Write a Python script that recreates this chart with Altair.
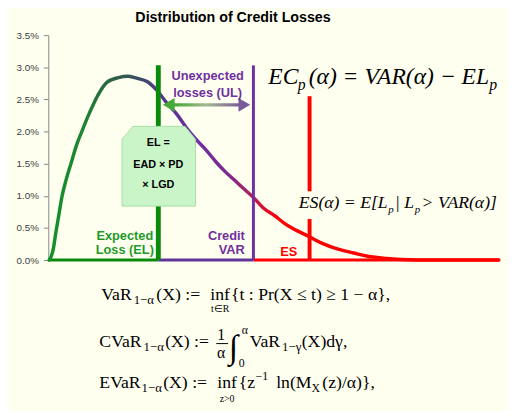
import altair as alt
import pandas as pd

# ---------------- data ----------------
# loss axis (arbitrary units 0-100) and loss density (%)
loss = [0.2, 0.6, 1.1, 1.7, 2.4, 3.0, 3.9, 5.0, 6.3, 7.4, 8.9, 10, 11, 13, 15.5, 17.5,
        19.5, 22, 24, 26, 28.5, 30.5, 33, 35, 37, 39, 41.5, 43.5, 45.5, 47.5, 50, 52,
        54, 57.5, 60.5, 64, 67.5, 70.5, 74, 78, 85, 99.5]
density = [0, 0.05, 0.17, 0.44, 0.73, 0.98, 1.24, 1.50, 1.80, 2.00, 2.26, 2.43, 2.57,
           2.77, 2.84, 2.86, 2.83, 2.77, 2.64, 2.46, 2.26, 2.06, 1.85, 1.70, 1.53, 1.38,
           1.22, 1.09, 0.96, 0.81, 0.69, 0.58, 0.49, 0.37, 0.26, 0.17, 0.11, 0.06, 0.03,
           0.01, 0.0, 0.0]
y_ticks = [0, 0.5, 1.0, 1.5, 2.0, 2.5, 3.0, 3.5]

# risk measures (loss position) : EL, VAR, ES
el_x, var_x, es_x = 24.3, 45.3, 57.7
marker_x = [el_x, var_x, es_x, es_x]
marker_lo = [0, 0, 1.07, 0]
marker_hi = [3.03, 3.03, 2.55, 0.64]
marker_col = ["#0a8a0a", "#7030a0", "#ff0000", "#ff0000"]
marker_w = [5, 3, 4, 4]

base_from = [0, el_x, var_x]
base_to = [el_x, var_x, 99.5]
base_col = ["#0a8a0a", "#60359a", "#ff0000"]

# EL box (chamfered top corners)
box_x = [16.3, 18.7, 30.2, 32.5]
box_top = [1.88, 2.08, 2.08, 1.88]
box_bot = [0.84, 0.84, 0.84, 0.84]

# UL arrow
arrow_x = [26.6, 43.3]
arrow_y = [2.415, 2.415]
shaft_x, shaft_x2 = [27.5], [42.5]
shaft_y, shaft_y2 = [2.39], [2.44]

# ---------------- texts ----------------
sans_c_t = ["Distribution of Credit Losses", "Unexpected", "losses (UL)", "Expected",
            "Loss (EL)", "ES", "EL =", "EAD \u00d7 PD", "\u00d7 LGD"]
sans_c_x = [40.8, 35.2, 35.2, 16.9, 16.9, 53.1, 24.3, 24.3, 24.3]
sans_c_y = [3.71, 2.80, 2.54, 0.32, 0.09, 0.06, 1.77, 1.44, 1.12]
sans_c_s = [14.5, 13, 13, 13, 13, 13, 11, 11, 11]
sans_c_c = ["#000000", "#7030a0", "#7030a0", "#1f9a2a", "#1f9a2a", "#ff0000",
            "#000000", "#000000", "#000000"]

sans_r_t = ["Credit", "VAR"]
sans_r_x = [43.4, 43.4]
sans_r_y = [0.32, 0.09]
sans_r_s = [13, 13]
sans_r_c = ["#7030a0", "#7030a0"]

ital_t = ["EC", "p", "(\u03b1) = VAR(\u03b1) \u2212 EL", "p",
          "ES(\u03b1) = E[L", "p", "| L", "p", "> VAR(\u03b1)]"]
ital_x = [48.6, 55.1, 57.5, 97.4, 55.31, 75.05, 76.57, 80.91, 82.43]
ital_y = [2.74, 2.64, 2.74, 2.64, 0.81, 0.734, 0.81, 0.734, 0.81]
ital_s = [24, 16, 24, 16, 18, 11, 18, 11, 18]

math_t = ["VaR", "1\u2212\u03b1", "(X) :=", "inf", "{t : Pr(X \u2264 t) \u2265 1 \u2212 \u03b1},",
          "CVaR", "1\u2212\u03b1", "(X) :=", "\u222b", "\u03b1", "0", "VaR", "1\u2212\u03b3", "(X)d\u03b3,",
          "EVaR", "1\u2212\u03b1", "(X) :=", "inf", "{z", "\u22121", "ln(M", "X", "(z)/\u03b1)},"]
math_x = [11.71, 18.87, 23.86, 35.79, 40.35,
          11.28, 21.04, 25.81, 39.91, 42.73, 42.08, 44.47, 51.63, 55.97,
          11.28, 20.61, 25.38, 37.31, 42.08, 45.77, 50.33, 58.13, 60.52]
math_y = [-0.627, -0.688, -0.627, -0.627, -0.627,
          -1.360, -1.421, -1.360, -1.528, -1.146, -1.666, -1.360, -1.421, -1.360,
          -1.987, -2.048, -1.987, -1.987, -1.987, -1.865, -1.987, -2.048, -1.987]
math_s = [18, 13, 18, 18, 18,
          18, 13, 18, 34, 12, 12, 18, 13, 18,
          18, 13, 18, 18, 18, 12, 18, 12, 18]

mathc_t = ["t\u2208R", "1", "\u03b1", "z>0"]
mathc_x = [37.96, 38.18, 38.18, 39.48]
mathc_y = [-0.810, -1.238, -1.528, -2.201]
mathc_s = [10, 16, 16, 10]

frac_x, frac_x2, frac_y = [37.09], [39.70], [-1.299]

# ---------------- chart ----------------
xs = alt.Scale(domain=[0, 100], nice=False, zero=False)
ys = alt.Scale(domain=[0, 3.5], nice=False, zero=False)
yaxis = alt.Axis(values=y_ticks, labelExpr="format(datum.value, '.1f') + '%'", title=None,
                 grid=False, domainColor="#888888", tickColor="#888888", tickSize=5,
                 labelColor="#404040", labelFont="Liberation Sans", labelFontSize=10,
                 labelPadding=5)


def X(f):
    return alt.X(f"{f}:Q", scale=xs, axis=None)


def Y(f):
    return alt.Y(f"{f}:Q", scale=ys, axis=yaxis)


curve_df = pd.DataFrame({"loss": loss, "d": density})
curve_grad = alt.LinearGradient(
    gradient="linear", x1=0, x2=1, y1=0, y2=0,
    stops=[alt.GradientStop(offset=0.0, color="#12902a"),
           alt.GradientStop(offset=0.07, color="#1d8632"),
           alt.GradientStop(offset=0.15, color="#2e5e48"),
           alt.GradientStop(offset=0.20, color="#3a4c64"),
           alt.GradientStop(offset=0.26, color="#5a3590"),
           alt.GradientStop(offset=0.33, color="#6e2fa0"),
           alt.GradientStop(offset=0.40, color="#7c2a8e"),
           alt.GradientStop(offset=0.45, color="#b0205a"),
           alt.GradientStop(offset=0.49, color="#e80a20"),
           alt.GradientStop(offset=0.52, color="#ff0000"),
           alt.GradientStop(offset=1.0, color="#ff0000")])

axis_layer = alt.Chart(pd.DataFrame({"v": y_ticks})).mark_point(opacity=0).encode(
    x=alt.value(0), y=Y("v"))

base_df = pd.DataFrame({"a": base_from, "b": base_to, "y": [0, 0, 0], "c": base_col})
base_layer = alt.Chart(base_df).mark_rule(strokeWidth=3).encode(
    x=X("a"), x2="b", y=Y("y"), color=alt.Color("c:N", scale=None))

curve_layer = alt.Chart(curve_df).mark_line(
    stroke=curve_grad, strokeWidth=3.5, interpolate="monotone", strokeCap="round").encode(
    x=X("loss"), y=Y("d"))

mk_df = pd.DataFrame({"x": marker_x, "lo": marker_lo, "hi": marker_hi,
                      "c": marker_col, "w": marker_w})
mk_layer = alt.Chart(mk_df).mark_rule().encode(
    x=X("x"), y=Y("lo"), y2="hi", color=alt.Color("c:N", scale=None),
    strokeWidth=alt.StrokeWidth("w:Q", scale=None))

box_df = pd.DataFrame({"x": box_x, "t": box_top, "b": box_bot})
box_layer = alt.Chart(box_df).mark_area(
    fill="#c9f5c9", stroke="#a4dea4", strokeWidth=1, opacity=1).encode(
    x=X("x"), y=Y("t"), y2="b")

arr_grad = alt.LinearGradient(
    gradient="linear", x1=0, x2=1, y1=0, y2=0,
    stops=[alt.GradientStop(offset=0.0, color="#3ea832"),
           alt.GradientStop(offset=0.5, color="#a6b894"),
           alt.GradientStop(offset=1.0, color="#7a5a9a")])
shaft_df = pd.DataFrame({"a": shaft_x, "b": shaft_x2, "c": shaft_y, "d": shaft_y2})
shaft_layer = alt.Chart(shaft_df).mark_rect(fill=arr_grad, opacity=1).encode(
    x=X("a"), x2="b", y=Y("c"), y2="d")
head_df = pd.DataFrame({"x": arrow_x, "y": arrow_y,
                        "shape": ["triangle-left", "triangle-right"],
                        "c": ["#46a836", "#7a5a9a"]})
head_layer = alt.Chart(head_df).mark_point(filled=True, size=190, opacity=1).encode(
    x=X("x"), y=Y("y"), shape=alt.Shape("shape:N", scale=None),
    color=alt.Color("c:N", scale=None))


def text_layer(t, x, y, s, c, align, font, weight="normal", style="normal"):
    df = pd.DataFrame({"t": t, "x": x, "y": y, "s": s, "c": c})
    return alt.Chart(df).mark_text(align=align, baseline="alphabetic", font=font,
                                   fontWeight=weight, fontStyle=style).encode(
        x=X("x"), y=Y("y"), text="t:N", size=alt.Size("s:Q", scale=None),
        color=alt.Color("c:N", scale=None))


sans_c = text_layer(sans_c_t, sans_c_x, sans_c_y, sans_c_s, sans_c_c, "center",
                    "Liberation Sans", "bold")
sans_r = text_layer(sans_r_t, sans_r_x, sans_r_y, sans_r_s, sans_r_c, "right",
                    "Liberation Sans", "bold")
ital = text_layer(ital_t, ital_x, ital_y, ital_s, ["#000000"] * len(ital_t), "left",
                  "Liberation Serif", "normal", "italic")
math_l = text_layer(math_t, math_x, math_y, math_s, ["#000000"] * len(math_t), "left",
                    "Liberation Serif")
math_c = text_layer(mathc_t, mathc_x, mathc_y, mathc_s, ["#000000"] * len(mathc_t), "center",
                    "Liberation Serif")

frac_df = pd.DataFrame({"a": frac_x, "b": frac_x2, "y": frac_y})
frac_layer = alt.Chart(frac_df).mark_rule(strokeWidth=1, color="#000000").encode(
    x=X("a"), x2="b", y=Y("y"))

chart = alt.layer(
    axis_layer, base_layer, curve_layer, mk_layer, box_layer, shaft_layer, head_layer,
    sans_c, sans_r, ital, math_l, math_c, frac_layer
).properties(
    width=461, height=229,
    autosize=alt.AutoSizeParams(type="none"),
    padding={"left": 41, "top": 24, "right": 7, "bottom": 150},
    background="#FFFFF0"
).configure_view(stroke=None)

chart.save("out.html", embed_options={"renderer": "svg", "actions": False})
